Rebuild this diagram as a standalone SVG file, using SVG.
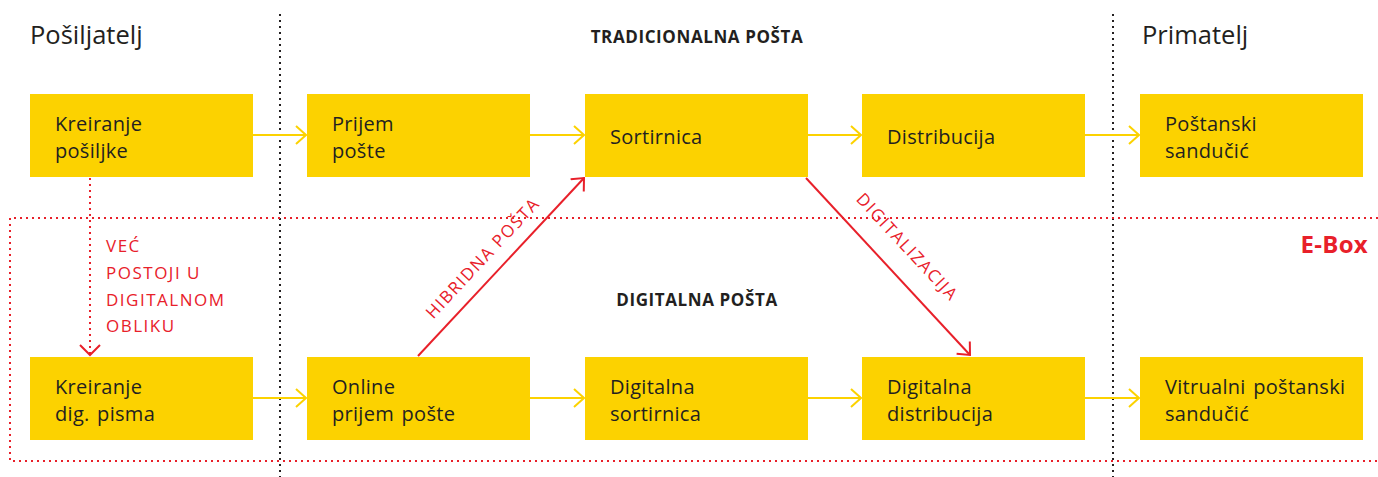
<svg xmlns="http://www.w3.org/2000/svg" width="1378" height="477" viewBox="0 0 1378 477">
<defs>
<style>
.box{fill:#FCD200}
.t{font-family:"Open Sans","Liberation Sans",sans-serif;font-size:20px;letter-spacing:0.3px;word-spacing:2px;fill:#231F20}
.h{font-family:"Open Sans","Liberation Sans",sans-serif;font-size:25.5px;fill:#231F20}
.b{font-family:"Open Sans","Liberation Sans",sans-serif;font-size:17px;letter-spacing:0.6px;font-weight:bold;fill:#231F20}
.r{font-family:"Open Sans","Liberation Sans",sans-serif;font-size:17px;fill:#E8202A;letter-spacing:1.5px}
.eb{font-family:"Open Sans","Liberation Sans",sans-serif;font-size:24px;letter-spacing:0.3px;font-weight:bold;fill:#E8202A}
.ya{stroke:#FCD200;stroke-width:2;fill:none}
.ra{stroke:#E8202A;stroke-width:2;fill:none}
.kd{stroke:#231F20;stroke-width:2;stroke-dasharray:2 4;fill:none}
.rd{stroke:#E8202A;stroke-width:2;stroke-dasharray:2 4;fill:none}
</style>
<marker id="ym" markerWidth="12" markerHeight="20" refX="11" refY="10" orient="auto" markerUnits="userSpaceOnUse">
<path d="M1,1 L11,10 L1,19" stroke="#FCD200" stroke-width="2" fill="none"/>
</marker>
<marker id="rm" markerWidth="12" markerHeight="20" refX="11" refY="10" orient="auto" markerUnits="userSpaceOnUse">
<path d="M1,1 L11,10 L1,19" stroke="#E8202A" stroke-width="2" fill="none"/>
</marker>
</defs>
<rect width="1378" height="477" fill="#fff"/>
<g id="lanes">
<path class="kd" d="M280,14 V477"/>
<path class="kd" d="M1113,14 V477"/>
<path class="rd" d="M1378,218 H10 V461 H1378"/>
<text class="h" x="30" y="44">Pošiljatelj</text>
<text class="h" x="1142" y="44">Primatelj</text>
<text class="b" x="697" y="43" text-anchor="middle">TRADICIONALNA POŠTA</text>
<text class="b" x="697" y="306" text-anchor="middle">DIGITALNA POŠTA</text>
<text class="eb" x="1368" y="253" text-anchor="end">E-Box</text>
</g>
<g id="n1"><rect class="box" x="30" y="94" width="223" height="83"/><text class="t" x="55" y="131">Kreiranje</text><text class="t" x="55" y="158">pošiljke</text></g>
<g id="n2"><rect class="box" x="307" y="94" width="223" height="83"/><text class="t" x="332" y="131">Prijem</text><text class="t" x="332" y="158">pošte</text></g>
<g id="n3"><rect class="box" x="585" y="94" width="223" height="83"/><text class="t" x="610" y="144">Sortirnica</text></g>
<g id="n4"><rect class="box" x="862" y="94" width="223" height="83"/><text class="t" x="887" y="144">Distribucija</text></g>
<g id="n5"><rect class="box" x="1140" y="94" width="223" height="83"/><text class="t" x="1165" y="131">Poštanski</text><text class="t" x="1165" y="158">sandučić</text></g>
<g id="n6"><rect class="box" x="30" y="357" width="223" height="83"/><text class="t" x="55" y="394">Kreiranje</text><text class="t" x="55" y="421">dig. pisma</text></g>
<g id="n7"><rect class="box" x="307" y="357" width="223" height="83"/><text class="t" x="332" y="394">Online</text><text class="t" x="332" y="421">prijem pošte</text></g>
<g id="n8"><rect class="box" x="585" y="357" width="223" height="83"/><text class="t" x="610" y="394">Digitalna</text><text class="t" x="610" y="421">sortirnica</text></g>
<g id="n9"><rect class="box" x="862" y="357" width="223" height="83"/><text class="t" x="887" y="394">Digitalna</text><text class="t" x="887" y="421">distribucija</text></g>
<g id="n10"><rect class="box" x="1140" y="357" width="223" height="83"/><text class="t" x="1165" y="394">Vitrualni poštanski</text><text class="t" x="1165" y="421">sandučić</text></g>
<g id="connectors">
<path class="ya" d="M253,135 H306" marker-end="url(#ym)"/>
<path class="ya" d="M530,135 H584" marker-end="url(#ym)"/>
<path class="ya" d="M808,135 H861" marker-end="url(#ym)"/>
<path class="ya" d="M1085,135 H1139" marker-end="url(#ym)"/>
<path class="ya" d="M253,398 H306" marker-end="url(#ym)"/>
<path class="ya" d="M530,398 H584" marker-end="url(#ym)"/>
<path class="ya" d="M808,398 H861" marker-end="url(#ym)"/>
<path class="ya" d="M1085,398 H1139" marker-end="url(#ym)"/>
<path class="rd" d="M90,178 V354"/>
<path d="M80,345 L90,355 L100,345" stroke="#E8202A" stroke-width="2" fill="none"/>
<path class="ra" d="M418,356 L584,178" marker-end="url(#rm)"/>
<path class="ra" d="M806,178 L970,355" marker-end="url(#rm)"/>
<text class="r" x="106" y="252">VEĆ</text>
<text class="r" x="106" y="279">POSTOJI U</text>
<text class="r" x="106" y="306">DIGITALNOM</text>
<text class="r" x="106" y="332">OBLIKU</text>
<text class="r" transform="translate(487,262) rotate(-47)" text-anchor="middle">HIBRIDNA POŠTA</text>
<text class="r" transform="translate(903,251) rotate(47)" text-anchor="middle">DIGITALIZACIJA</text>
</g>
</svg>
